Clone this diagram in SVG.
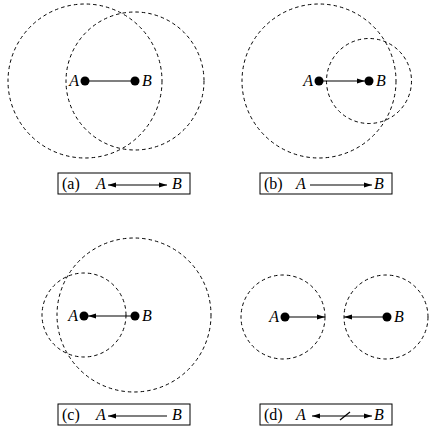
<svg xmlns="http://www.w3.org/2000/svg" width="429" height="435" viewBox="0 0 429 435">
<style>
.c{fill:none;stroke:#000;stroke-width:1;stroke-dasharray:3.5 3}
.d{fill:#000}
.l{stroke:#000;stroke-width:1.2;fill:none}
.b{fill:#fff;stroke:#000;stroke-width:1}
</style>
<defs>
<marker id="ah" markerWidth="8" markerHeight="6" refX="8" refY="3" orient="auto" markerUnits="userSpaceOnUse">
<path d="M0,0.5 L8,3 L0,5.5 Z" fill="#000"/>
</marker>
<marker id="ahs" markerWidth="8" markerHeight="6" refX="0" refY="3" orient="auto" markerUnits="userSpaceOnUse">
<path d="M8,0.5 L0,3 L8,5.5 Z" fill="#000"/>
</marker>
</defs>

<g font-family="Liberation Serif, serif" font-size="16" fill="#000">
<g id="panel-a">
<circle class="c" cx="85" cy="81" r="77"/>
<circle class="c" cx="135" cy="81" r="69"/>
<g id="a-A"><circle class="d" cx="85" cy="81" r="4.5"/><text font-style="italic" x="79" y="86" text-anchor="end">A</text></g>
<g id="a-B"><circle class="d" cx="135" cy="81" r="4.5"/><text font-style="italic" x="142" y="86">B</text></g>
<g id="a-legend"><rect class="b" x="58" y="173" width="132" height="21"/>
<text x="62" y="189">(a)</text><text font-style="italic" x="96" y="189">A</text><text font-style="italic" x="172" y="189">B</text></g>
</g>

<g id="panel-b">
<circle class="c" cx="319" cy="81" r="77"/>
<circle class="c" cx="369" cy="81" r="42.5"/>
<g id="b-A"><circle class="d" cx="319" cy="81" r="4.5"/><text font-style="italic" x="313" y="86" text-anchor="end">A</text></g>
<g id="b-B"><circle class="d" cx="369" cy="81" r="4.5"/><text font-style="italic" x="376" y="86">B</text></g>
<g id="b-legend"><rect class="b" x="260" y="173" width="132" height="21"/>
<text x="264" y="189">(b)</text><text font-style="italic" x="296" y="189">A</text><text font-style="italic" x="374" y="189">B</text></g>
</g>

<g id="panel-c">
<circle class="c" cx="84" cy="315" r="42"/>
<circle class="c" cx="134" cy="315" r="77"/>
<g id="c-A"><circle class="d" cx="84" cy="316" r="4.5"/><text font-style="italic" x="78" y="321" text-anchor="end">A</text></g>
<g id="c-B"><circle class="d" cx="135" cy="316" r="4.5"/><text font-style="italic" x="142" y="321">B</text></g>
<g id="c-legend"><rect class="b" x="58" y="404" width="132" height="21"/>
<text x="62" y="420">(c)</text><text font-style="italic" x="96" y="420">A</text><text font-style="italic" x="172" y="420">B</text></g>
</g>

<g id="panel-d">
<circle class="c" cx="283" cy="317" r="42"/>
<circle class="c" cx="386" cy="317" r="42"/>
<g id="d-A"><circle class="d" cx="285" cy="317" r="4.5"/><text font-style="italic" x="279" y="322" text-anchor="end">A</text></g>
<g id="d-B"><circle class="d" cx="387" cy="317" r="4.5"/><text font-style="italic" x="394" y="322">B</text></g>
<g id="d-legend"><rect class="b" x="260" y="404" width="132" height="21"/>
<text x="264" y="420">(d)</text><text font-style="italic" x="296" y="420">A</text><text font-style="italic" x="374" y="420">B</text></g>
</g>
</g>

<g id="connectors">
<line class="l" x1="85" y1="81" x2="135" y2="81"/>
<line class="l" x1="108" y1="185" x2="167" y2="185" marker-start="url(#ahs)" marker-end="url(#ah)"/>
<line class="l" x1="319" y1="81" x2="365" y2="81" marker-end="url(#ah)"/>
<line class="l" x1="310" y1="185" x2="372" y2="185" marker-end="url(#ah)"/>
<line class="l" x1="135" y1="316" x2="88" y2="316" marker-end="url(#ah)"/>
<line class="l" x1="167" y1="416" x2="108" y2="416" marker-end="url(#ah)"/>
<line class="l" x1="285" y1="317" x2="325" y2="317" marker-end="url(#ah)"/>
<line class="l" x1="387" y1="317" x2="344" y2="317" marker-end="url(#ah)"/>
<line class="l" x1="312" y1="416" x2="372" y2="416" marker-start="url(#ahs)" marker-end="url(#ah)"/>
<line class="l" x1="340" y1="420" x2="350" y2="412"/>
</g>
</svg>
